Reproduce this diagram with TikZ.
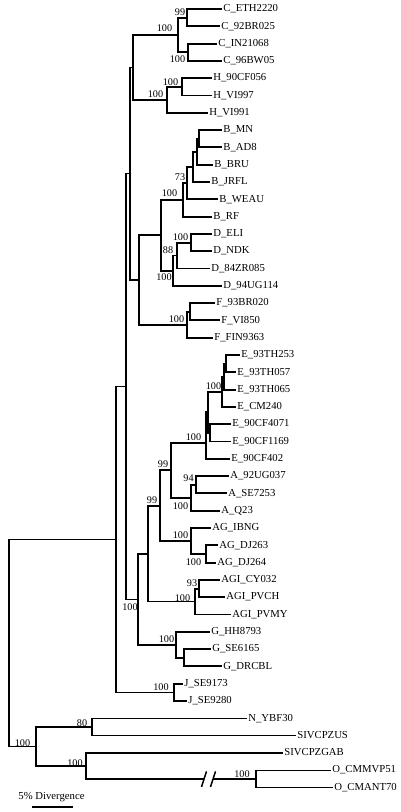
\documentclass[tikz,border=0pt]{standalone}
\usepackage{fontspec}
\setmainfont{Liberation Serif}
\usetikzlibrary{calc}
\tikzset{
  edge/.style={line width=1.9pt},
  thin/.style={line width=1.4pt},
  leaf/.style={anchor=west, inner xsep=1.2pt, inner ysep=0pt, text height=7pt, text depth=1.5pt, font=\fontsize{10.7}{12}\selectfont},
  bs/.style={inner sep=0pt, font=\fontsize{10.2}{12}\selectfont}
}
\newcommand\tbr[3][edge]{\draw[#1] (#2) |- (#3);}
\begin{document}
\begin{tikzpicture}[x=1pt,y=-1pt]
\useasboundingbox (0,0) rectangle (400,812);
% leaves
\node[leaf] (l0) at (222,9) {C\_ETH2220};
\node[leaf] (l1) at (220,26.3) {C\_92BR025};
\node[leaf] (l2) at (217,43.6) {C\_IN21068};
\node[leaf] (l3) at (222,60.9) {C\_96BW05};
\node[leaf] (l4) at (212,78.2) {H\_90CF056};
\node[leaf] (l5) at (212,95.5) {H\_VI997};
\node[leaf] (l6) at (208,112.8) {H\_VI991};
\node[leaf] (l7) at (222,130.1) {B\_MN};
\node[leaf] (l8) at (222,147.4) {B\_AD8};
\node[leaf] (l9) at (213,164.7) {B\_BRU};
\node[leaf] (l10) at (210,182) {B\_JRFL};
\node[leaf] (l11) at (218,199.3) {B\_WEAU};
\node[leaf] (l12) at (212,216.6) {B\_RF};
\node[leaf] (l13) at (212,233.9) {D\_ELI};
\node[leaf] (l14) at (212,251.2) {D\_NDK};
\node[leaf] (l15) at (210,268.5) {D\_84ZR085};
\node[leaf] (l16) at (222,285.8) {D\_94UG114};
\node[leaf] (l17) at (215,303.1) {F\_93BR020};
\node[leaf] (l18) at (220,320.4) {F\_VI850};
\node[leaf] (l19) at (213,337.7) {F\_FIN9363};
\node[leaf] (l20) at (240,355) {E\_93TH253};
\node[leaf] (l21) at (236,372.3) {E\_93TH057};
\node[leaf] (l22) at (236,389.6) {E\_93TH065};
\node[leaf] (l23) at (236,406.9) {E\_CM240};
\node[leaf] (l24) at (231,424.2) {E\_90CF4071};
\node[leaf] (l25) at (231,441.5) {E\_90CF1169};
\node[leaf] (l26) at (230,458.8) {E\_90CF402};
\node[leaf] (l27) at (229,476.1) {A\_92UG037};
\node[leaf] (l28) at (227,493.4) {A\_SE7253};
\node[leaf] (l29) at (220,510.7) {A\_Q23};
\node[leaf] (l30) at (211,528) {AG\_IBNG};
\node[leaf] (l31) at (218,545.3) {AG\_DJ263};
\node[leaf] (l32) at (216,562.6) {AG\_DJ264};
\node[leaf] (l33) at (220,579.9) {AGI\_CY032};
\node[leaf] (l34) at (225,597.2) {AGI\_PVCH};
\node[leaf] (l35) at (231,614.5) {AGI\_PVMY};
\node[leaf] (l36) at (210,631.8) {G\_HH8793};
\node[leaf] (l37) at (211,649.1) {G\_SE6165};
\node[leaf] (l38) at (222,666.4) {G\_DRCBL};
\node[leaf] (l39) at (183,683.7) {J\_SE9173};
\node[leaf] (l40) at (187,701) {J\_SE9280};
\node[leaf] (l41) at (247,718.3) {N\_YBF30};
\node[leaf] (l42) at (296,735.6) {SIVCPZUS};
\node[leaf] (l43) at (283,752.9) {SIVCPZGAB};
\node[leaf] (l44) at (331,770.2) {O\_CMMVP51};
\node[leaf] (l45) at (333,787.5) {O\_CMANT70};
% internal nodes
\coordinate (C99) at (187,17.65);
\coordinate (C100b) at (188,52.25);
\coordinate (C) at (178,35);
\coordinate (H100a) at (182,86.85);
\coordinate (H) at (167,99.8);
\coordinate (CH) at (133,67.4);
\coordinate (N4) at (199,138.75);
\coordinate (N3) at (197,151.7);
\coordinate (N2) at (193,166.9);
\coordinate (N1) at (187,183.1);
\coordinate (B) at (183,199.9);
\coordinate (DEN) at (191,242.55);
\coordinate (D88) at (177,255.5);
\coordinate (D) at (173,270.7);
\coordinate (BD) at (161,235.3);
\coordinate (Fs) at (190,311.75);
\coordinate (F) at (187,324.7);
\coordinate (BDF) at (139,280);
\coordinate (CHBDF) at (130,173.7);
\coordinate (E1) at (226,363.65);
\coordinate (E2) at (224,376.6);
\coordinate (E3) at (222,391.8);
\coordinate (E5) at (210,432.85);
\coordinate (E4) at (208,412.3);
\coordinate (E) at (206,443);
\coordinate (A94) at (196,484.75);
\coordinate (A) at (191,497.7);
\coordinate (EA) at (171,470.4);
\coordinate (AGdj) at (206,553.95);
\coordinate (AG) at (191,541);
\coordinate (EAAG) at (160,505.7);
\coordinate (AGI93) at (199,588.55);
\coordinate (AGI) at (195,601.5);
\coordinate (EAG) at (148,553.6);
\coordinate (Gs) at (184,657.75);
\coordinate (G) at (176,644.8);
\coordinate (X) at (138,599.2);
\coordinate (M1) at (126,386.5);
\coordinate (J) at (174,692.35);
\coordinate (M) at (116,539.4);
\coordinate (NS) at (92,727);
\coordinate (O) at (256,778.9);
\coordinate (GO) at (86,765.9);
\coordinate (NO) at (36,746.4);
\coordinate (R) at (9,643);
\coordinate (bk1) at (204,778.9);
\coordinate (bk2) at (213,778.9);
% branches
\tbr{C99}{l0.west} \tbr{C99}{l1.west}
\tbr{C100b}{l2.west} \tbr{C100b}{l3.west}
\tbr{C}{C99} \tbr{C}{C100b}
\tbr{H100a}{l4.west} \tbr{H100a}{l5.west}
\tbr{H}{H100a} \tbr{H}{l6.west}
\tbr{CH}{C} \tbr{CH}{H}
\tbr{N4}{l7.west} \tbr{N4}{l8.west}
\tbr{N3}{N4} \tbr{N3}{l9.west}
\tbr{N2}{N3} \tbr{N2}{l10.west}
\tbr{N1}{N2} \tbr{N1}{l11.west}
\tbr{B}{N1} \tbr{B}{l12.west}
\tbr{DEN}{l13.west} \tbr{DEN}{l14.west}
\tbr{D88}{DEN} \tbr{D88}{l15.west}
\tbr{D}{D88} \tbr{D}{l16.west}
\tbr{BD}{B} \tbr{BD}{D}
\tbr{Fs}{l17.west} \tbr{Fs}{l18.west}
\tbr{F}{Fs} \tbr{F}{l19.west}
\tbr{BDF}{BD} \tbr{BDF}{F}
\tbr[thin]{CHBDF}{CH} \tbr{CHBDF}{BDF}
\tbr{E1}{l20.west} \tbr{E1}{l21.west}
\tbr{E2}{E1} \tbr{E2}{l22.west}
\tbr{E3}{E2} \tbr{E3}{l23.west}
\tbr{E5}{l24.west} \tbr{E5}{l25.west}
\tbr{E4}{E3} \tbr{E4}{E5}
\tbr{E}{E4} \tbr{E}{l26.west}
\tbr{A94}{l27.west} \tbr{A94}{l28.west}
\tbr{A}{A94} \tbr{A}{l29.west}
\tbr{EA}{E} \tbr{EA}{A}
\tbr{AGdj}{l31.west} \tbr{AGdj}{l32.west}
\tbr{AG}{l30.west} \tbr{AG}{AGdj}
\tbr{EAAG}{EA} \tbr{EAAG}{AG}
\tbr{AGI93}{l33.west} \tbr{AGI93}{l34.west}
\tbr{AGI}{AGI93} \tbr{AGI}{l35.west}
\tbr{EAG}{EAAG} \tbr{EAG}{AGI}
\tbr{Gs}{l37.west} \tbr{Gs}{l38.west}
\tbr{G}{l36.west} \tbr{G}{Gs}
\tbr{X}{EAG} \tbr{X}{G}
\tbr[thin]{M1}{CHBDF} \tbr[thin]{M1}{X}
\tbr{J}{l39.west} \tbr{J}{l40.west}
\tbr[thin]{M}{M1} \tbr[thin]{M}{J}
\tbr[thin]{NS}{l41.west} \tbr[thin]{NS}{l42.west}
\tbr[thin]{GO}{l43.west} \tbr[thin]{GO}{bk1}
\draw[thin] (bk2) -- (O);
\tbr[thin]{O}{l44.west} \tbr[thin]{O}{l45.west}
\tbr[thin]{NO}{NS} \tbr[thin]{NO}{GO}
\tbr[thin]{R}{M} \tbr[thin]{R}{NO}
% break marks
\draw[line width=1.5pt] ($(bk1)+(-2.5,8)$) -- ($(bk1)+(2.5,-7.5)$);
\draw[line width=1.5pt] ($(bk2)+(-2.5,8)$) -- ($(bk2)+(2.5,-7.5)$);
% bootstrap values
\node[bs] (b1) at (180,12) {99};
\node[bs] (b2) at (164.5,28) {100};
\node[bs] (b3) at (177.5,59) {100};
\node[bs] (b4) at (170.5,82) {100};
\node[bs] (b5) at (155.5,94) {100};
\node[bs] (b6) at (180,177) {73};
\node[bs] (b7) at (169.5,193) {100};
\node[bs] (b8) at (180.5,237) {100};
\node[bs] (b9) at (168,250) {88};
\node[bs] (b10) at (164,277) {100};
\node[bs] (b11) at (176.5,319) {100};
\node[bs] (b12) at (213.5,386) {100};
\node[bs] (b13) at (193.5,437) {100};
\node[bs] (b14) at (163,464) {99};
\node[bs] (b15) at (152,500) {99};
\node[bs] (b16) at (188.5,478) {94};
\node[bs] (b17) at (180.5,506) {100};
\node[bs] (b18) at (180.5,535) {100};
\node[bs] (b19) at (193.5,562) {100};
\node[bs] (b20) at (192,583) {93};
\node[bs] (b21) at (182.5,598) {100};
\node[bs] (b22) at (130,607) {100};
\node[bs] (b23) at (166.5,639) {100};
\node[bs] (b24) at (161,687) {100};
\node[bs] (b25) at (82,723) {80};
\node[bs] (b26) at (75,763) {100};
\node[bs] (b27) at (242,774) {100};
\node[bs] (b28) at (22.5,743) {100};
% scale bar
\node[bs, font=\fontsize{10.7}{12}\selectfont] (sbl) at (51.5,797) {5\% Divergence};
\coordinate (sb1) at (32,807);
\coordinate (sb2) at (73,807);
\draw[line width=1.4pt] (sb1) -- (sb2);
\end{tikzpicture}
\end{document}
